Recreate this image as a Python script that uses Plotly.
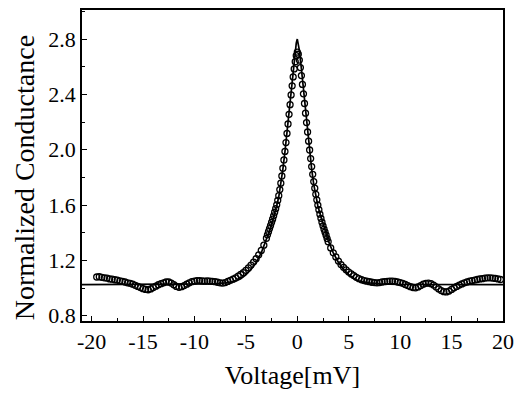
import plotly.graph_objects as go

# ---- measured data (open circles) ----
volt_left = [-19.5, -19.25, -19.0, -18.75, -18.5, -18.25, -18.0, -17.75, -17.5, -17.25,
             -17.0, -16.75, -16.5, -16.25, -16.0, -15.75, -15.5, -15.25, -15.0, -14.75,
             -14.5, -14.25, -14.0, -13.75, -13.5, -13.25, -13.0, -12.75, -12.5, -12.25,
             -12.0, -11.75, -11.5, -11.25, -11.0, -10.75, -10.5, -10.25, -10.0, -9.75,
             -9.5, -9.25, -9.0, -8.75, -8.5, -8.25, -8.0, -7.75, -7.5, -7.25,
             -7.0, -6.75, -6.5, -6.25, -6.0, -5.75, -5.5, -5.25, -5.0, -4.75,
             -4.5, -4.25, -4.0, -3.75, -3.5, -3.25]
cond_left = [1.080, 1.082, 1.078, 1.074, 1.072, 1.066, 1.064, 1.060, 1.058, 1.052,
             1.048, 1.044, 1.038, 1.034, 1.028, 1.020, 1.012, 1.004, 0.996, 0.990,
             0.988, 0.994, 1.004, 1.014, 1.024, 1.032, 1.038, 1.044, 1.044, 1.036,
             1.024, 1.012, 1.006, 1.010, 1.018, 1.028, 1.038, 1.046, 1.050, 1.054,
             1.054, 1.052, 1.050, 1.052, 1.050, 1.048, 1.046, 1.042, 1.038, 1.036,
             1.040, 1.048, 1.056, 1.064, 1.074, 1.086, 1.098, 1.112, 1.128, 1.146,
             1.166, 1.188, 1.212, 1.240, 1.272, 1.310]

volt_center = [-3.0, -2.9, -2.8, -2.7, -2.6, -2.5, -2.4, -2.3, -2.2, -2.1,
               -2.0, -1.9, -1.8, -1.7, -1.6, -1.5, -1.4, -1.3, -1.2, -1.1,
               -1.0, -0.9, -0.8, -0.7, -0.6, -0.5, -0.4, -0.3, -0.2, -0.1,
               0.0,
               0.1, 0.2, 0.3, 0.4, 0.5, 0.6, 0.7, 0.8, 0.9, 1.0,
               1.1, 1.2, 1.3, 1.4, 1.5, 1.6, 1.7, 1.8, 1.9, 2.0,
               2.1, 2.2, 2.3, 2.4, 2.5, 2.6, 2.7, 2.8, 2.9, 3.0]
cond_center = [1.360, 1.385, 1.408, 1.430, 1.452, 1.475, 1.498, 1.522, 1.548, 1.574,
               1.602, 1.634, 1.668, 1.712, 1.758, 1.810, 1.866, 1.926, 1.988, 2.052,
               2.118, 2.186, 2.256, 2.326, 2.396, 2.462, 2.526, 2.584, 2.636, 2.680,
               2.705,
               2.690, 2.648, 2.594, 2.536, 2.472, 2.404, 2.334, 2.264, 2.196, 2.128,
               2.062, 1.998, 1.936, 1.878, 1.822, 1.770, 1.722, 1.678, 1.638, 1.600,
               1.566, 1.534, 1.504, 1.476, 1.450, 1.426, 1.404, 1.382, 1.358, 1.335]

volt_right = [3.25, 3.5, 3.75, 4.0, 4.25, 4.5, 4.75, 5.0, 5.25, 5.5,
              5.75, 6.0, 6.25, 6.5, 6.75, 7.0, 7.25, 7.5, 7.75, 8.0,
              8.25, 8.5, 8.75, 9.0, 9.25, 9.5, 9.75, 10.0, 10.25, 10.5,
              10.75, 11.0, 11.25, 11.5, 11.75, 12.0, 12.25, 12.5, 12.75, 13.0,
              13.25, 13.5, 13.75, 14.0, 14.25, 14.5, 14.75, 15.0, 15.25, 15.5,
              15.75, 16.0, 16.25, 16.5, 16.75, 17.0, 17.25, 17.5, 17.75, 18.0,
              18.25, 18.5, 18.75, 19.0, 19.25, 19.5, 19.75]
cond_right = [1.290, 1.255, 1.225, 1.195, 1.170, 1.150, 1.132, 1.116, 1.102, 1.090,
              1.078, 1.068, 1.060, 1.054, 1.050, 1.046, 1.042, 1.040, 1.038, 1.040,
              1.044, 1.046, 1.048, 1.050, 1.050, 1.048, 1.044, 1.040, 1.034, 1.026,
              1.018, 1.010, 1.004, 1.002, 1.008, 1.018, 1.028, 1.034, 1.036, 1.032,
              1.022, 1.008, 0.994, 0.982, 0.974, 0.972, 0.978, 0.990, 1.002, 1.012,
              1.022, 1.030, 1.038, 1.044, 1.050, 1.054, 1.058, 1.062, 1.066, 1.068,
              1.072, 1.074, 1.074, 1.072, 1.070, 1.066, 1.062]

# ---- fitted curve (solid line) ----
fit_volt = [-21.0, -12.0, -10.0, -8.0, -7.0, -6.0, -5.5, -5.0, -4.5, -4.0, -3.5, -3.0,
            -2.8, -2.6, -2.4, -2.2, -2.0, -1.8, -1.6, -1.4, -1.2, -1.0, -0.8, -0.6,
            -0.4, -0.2, -0.1, 0.0, 0.1, 0.2, 0.4, 0.6, 0.8, 1.0, 1.2, 1.4, 1.6, 1.8,
            2.0, 2.2, 2.4, 2.6, 2.8, 3.0, 3.5, 4.0, 4.5, 5.0, 5.5, 6.0, 7.0, 8.0,
            10.0, 12.0, 20.0]
fit_cond = [1.025, 1.025, 1.026, 1.030, 1.037, 1.050, 1.068, 1.095, 1.135, 1.185, 1.255, 1.345,
            1.395, 1.440, 1.490, 1.540, 1.595, 1.660, 1.750, 1.860, 1.985, 2.125, 2.275, 2.435,
            2.585, 2.720, 2.770, 2.800, 2.770, 2.720, 2.585, 2.435, 2.275, 2.125, 1.985, 1.860, 1.750, 1.660,
            1.595, 1.540, 1.490, 1.440, 1.395, 1.345, 1.255, 1.185, 1.135, 1.095, 1.068, 1.050, 1.037, 1.030,
            1.026, 1.025, 1.025]

x_ticks = [-20, -15, -10, -5, 0, 5, 10, 15, 20]
x_ticktext = ["-20", "-15", "-10", "-5", "0", "5", "10", "15", "20"]
y_ticks = [0.8, 1.2, 1.6, 2.0, 2.4, 2.8]
y_ticktext = ["0.8", "1.2", "1.6", "2.0", "2.4", "2.8"]

volt = volt_left + volt_center + volt_right
cond = cond_left + cond_center + cond_right

FONT = "Liberation Serif, Times New Roman, serif"

fig = go.Figure()
fig.add_trace(go.Scatter(
    x=volt, y=cond, mode="markers",
    marker=dict(symbol="circle-open", size=6, color="black", line=dict(width=1.3)),
    hoverinfo="skip"))
fig.add_trace(go.Scatter(
    x=fit_volt, y=fit_cond, mode="lines",
    line=dict(color="black", width=1.7),
    hoverinfo="skip"))

axis_common = dict(
    showline=True, linecolor="black", linewidth=1.6, mirror=True,
    showgrid=False, zeroline=False,
    ticks="inside", ticklen=5, tickwidth=1.3, tickcolor="black",
    tickfont=dict(family=FONT, size=22, color="black"),
)

fig.update_layout(
    width=522, height=393,
    margin=dict(l=82, r=16, t=8, b=70),
    paper_bgcolor="white", plot_bgcolor="white",
    showlegend=False,
    xaxis=dict(
        range=[-20.93, 20], tickvals=x_ticks, ticktext=x_ticktext,
        minor=dict(ticks="inside", ticklen=3, tickwidth=1.1, tickcolor="black",
                   tick0=0, dtick=2.5),
        title=dict(text="Voltage[mV]", font=dict(family=FONT, size=26, color="black"),
                   standoff=13),
        **axis_common),
    yaxis=dict(
        range=[0.762, 3.01], tickvals=y_ticks, ticktext=y_ticktext,
        minor=dict(ticks="inside", ticklen=3, tickwidth=1.1, tickcolor="black",
                   tick0=0.8, dtick=0.2),
        **axis_common),
    annotations=[dict(
        text="Normalized Conductance", textangle=-90,
        xref="paper", yref="paper", x=-82 / 424 + 24 / 424, y=(323 - 178) / 315,
        xanchor="center", yanchor="middle", showarrow=False,
        font=dict(family=FONT, size=28, color="black"))],
)

fig.write_html("out.html")
